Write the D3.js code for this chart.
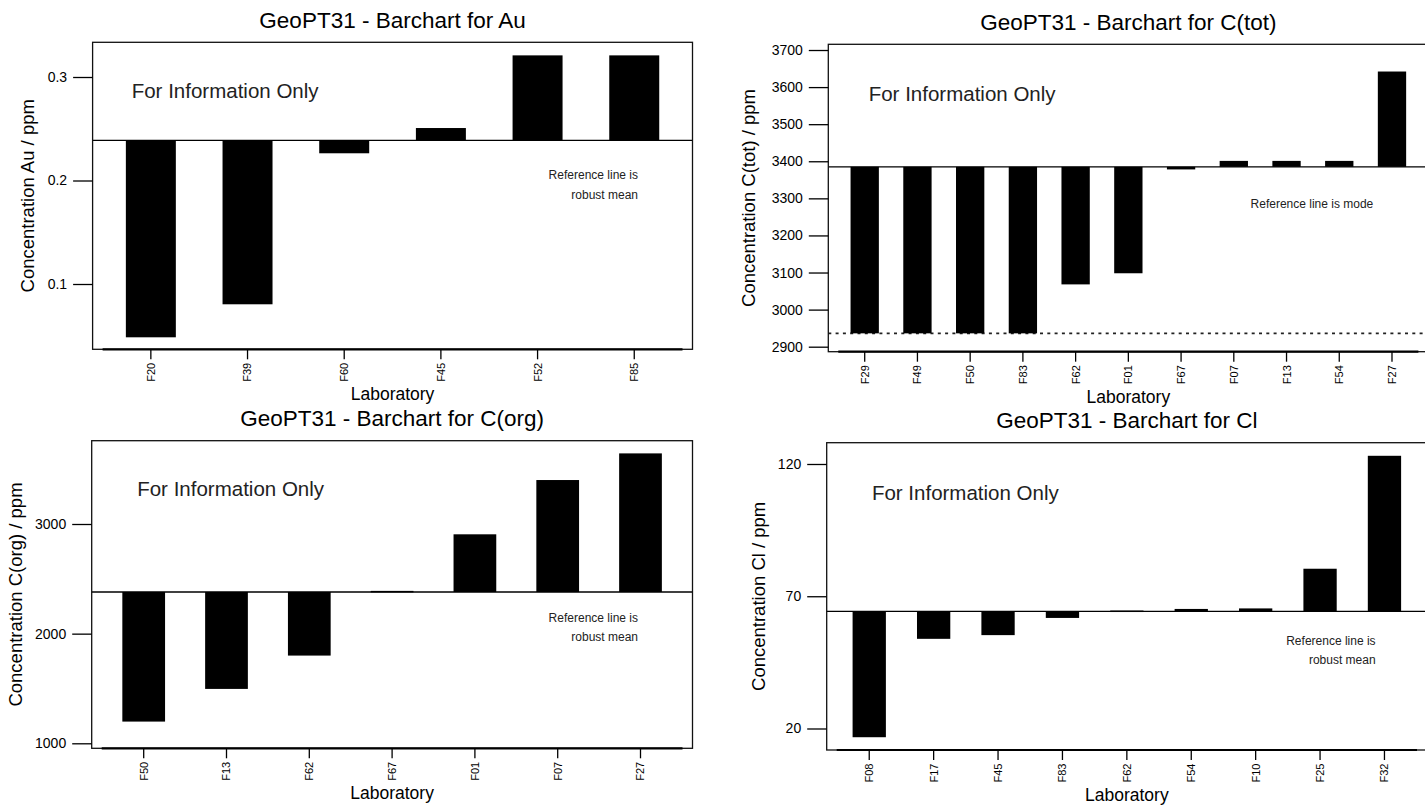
<!DOCTYPE html>
<html>
<head>
<meta charset="utf-8">
<script src="https://cdn.jsdelivr.net/npm/d3@7"></script>
<style>
  html, body { margin: 0; padding: 0; background: #fff; }
  svg { display: block; font-family: "Liberation Sans", Arial, Helvetica, sans-serif; }
</style>
</head>
<body>
<svg id="chart" width="1425" height="805"></svg>
<script>
// ---------------- DATA ----------------
const auLabs = ["F20", "F39", "F60", "F45", "F52", "F85"];
const auVals = [0.0485, 0.0804, 0.2263, 0.2507, 0.3209, 0.3209];
const auRef = 0.2388;
const auTicks = [0.1, 0.2, 0.3];
const auTickLabels = ["0.1", "0.2", "0.3"];

const ctotLabs = ["F29", "F49", "F50", "F83", "F62", "F01", "F67", "F07", "F13", "F54", "F27"];
const ctotVals = [2936, 2936, 2936, 2936, 3068, 3098, 3378, 3401, 3401, 3401, 3642];
const ctotRef = 3385;
const ctotLimit = 2936;
const ctotTicks = [2900, 3000, 3100, 3200, 3300, 3400, 3500, 3600, 3700];
const ctotTickLabels = ["2900", "3000", "3100", "3200", "3300", "3400", "3500", "3600", "3700"];

const corgLabs = ["F50", "F13", "F62", "F67", "F01", "F07", "F27"];
const corgVals = [1198, 1496, 1800, 2390, 2906, 3401, 3644];
const corgRef = 2380;
const corgTicks = [1000, 2000, 3000];
const corgTickLabels = ["1000", "2000", "3000"];

const clLabs = ["F08", "F17", "F45", "F83", "F62", "F54", "F10", "F25", "F32"];
const clVals = [16.7, 53.9, 55.3, 61.8, 64.6, 65.2, 65.4, 80.4, 123.1];
const clRef = 64.3;
const clTicks = [20, 70, 120];
const clTickLabels = ["20", "70", "120"];

const titlePrefix = "GeoPT31 - Barchart for ";
const infoText = "For Information Only";
const xLabel = "Laboratory";

// ---------------- LAYOUT ----------------
const panels = [
  { el: "Au", labs: auLabs, vals: auVals, ref: auRef, ticks: auTicks, tickLabels: auTickLabels,
    note: ["Reference line is", "robust mean"],
    box: {x0: 92.6, x1: 692.5, y0: 42.3, y1: 349.3}, yDomain: [0.03691, 0.33353],
    pi: 0.483, po: 0.344, info: [131.7, 98.3], noteX: 638, noteY: [179.3, 199], ylabX: 34 },
  { el: "C(tot)", labs: ctotLabs, vals: ctotVals, ref: ctotRef, ticks: ctotTicks, tickLabels: ctotTickLabels,
    note: ["Reference line is mode"], limit: ctotLimit,
    box: {x0: 828.3, x1: 1428.4, y0: 44.3, y1: 351.7}, yDomain: [2886.5, 3715.4],
    pi: 0.463, po: 0.422, info: [868.7, 101], noteX: 1373.3, noteY: [207.7], ylabX: 754.5 },
  { el: "C(org)", labs: corgLabs, vals: corgVals, ref: corgRef, ticks: corgTicks, tickLabels: corgTickLabels,
    note: ["Reference line is", "robust mean"],
    box: {x0: 91.7, x1: 692.5, y0: 440.7, y1: 748.3}, yDomain: [954.4, 3759.7],
    pi: 0.484, po: 0.37, info: [137.2, 496], noteX: 638, noteY: [622.3, 641.3], ylabX: 22 },
  { el: "Cl", labs: clLabs, vals: clVals, ref: clRef, ticks: clTicks, tickLabels: clTickLabels,
    note: ["Reference line is", "robust mean"],
    box: {x0: 826.7, x1: 1427, y0: 442.7, y1: 750}, yDomain: [11.87, 128.05],
    pi: 0.483, po: 0.402, info: [871.9, 500], noteX: 1375.6, noteY: [644.7, 664], ylabX: 765 }
];

const svg = d3.select("#chart");

panels.forEach(p => {
  const b = p.box;
  const g = svg.append("g");
  const x = d3.scaleBand().domain(p.labs).range([b.x0, b.x1]).paddingInner(p.pi).paddingOuter(p.po);
  const y = d3.scaleLinear().domain(p.yDomain).range([b.y1, b.y0]);
  const cx = (b.x0 + b.x1) / 2;

  // title
  g.append("text").attr("x", cx).attr("y", b.y0 - 14.5).attr("text-anchor", "middle")
    .attr("font-size", 22.5).attr("fill", "#000").text(titlePrefix + p.el);

  // lower-limit dotted line
  if (p.limit !== undefined) {
    g.append("line").attr("x1", b.x0).attr("x2", b.x1)
      .attr("y1", y(p.limit)).attr("y2", y(p.limit))
      .attr("stroke", "#222").attr("stroke-width", 1.6).attr("stroke-dasharray", "3,4.3");
  }

  // bars
  const data = p.labs.map((l, i) => ({lab: l, v: p.vals[i]}));
  g.selectAll("rect.bar").data(data).enter().append("rect").attr("class", "bar")
    .attr("x", d => x(d.lab)).attr("width", x.bandwidth())
    .attr("y", d => y(Math.max(d.v, p.ref)))
    .attr("height", d => Math.max(1.5, Math.abs(y(d.v) - y(p.ref))))
    .attr("fill", "#000");

  // reference line
  g.append("line").attr("x1", b.x0).attr("x2", b.x1)
    .attr("y1", y(p.ref)).attr("y2", y(p.ref))
    .attr("stroke", "#000").attr("stroke-width", 1.3);

  // frame
  g.append("rect").attr("x", b.x0).attr("y", b.y0).attr("width", b.x1 - b.x0).attr("height", b.y1 - b.y0)
    .attr("fill", "none").attr("stroke", "#111").attr("stroke-width", 1.3);
  g.append("line").attr("x1", b.x0 + 10).attr("x2", b.x1 - 10).attr("y1", b.y1).attr("y2", b.y1)
    .attr("stroke", "#000").attr("stroke-width", 2.2);

  // y axis
  const ya = g.append("g").attr("transform", `translate(${b.x0},0)`)
    .call(d3.axisLeft(y).tickValues(p.ticks).tickFormat((d, i) => p.tickLabels[i]).tickSize(19.5).tickPadding(6));
  ya.select(".domain").remove();
  ya.selectAll("line").attr("stroke", "#000").attr("stroke-width", 1.3);
  ya.selectAll("text").attr("font-size", 14).attr("fill", "#000")
    .attr("font-family", '"Liberation Sans", Arial, sans-serif');

  // x axis
  const xa = g.append("g").attr("transform", `translate(0,${b.y1})`)
    .call(d3.axisBottom(x).tickSize(10));
  xa.select(".domain").remove();
  xa.selectAll("line").attr("stroke", "#000").attr("stroke-width", 1.3);
  xa.selectAll("text")
    .attr("transform", "rotate(-90)").attr("x", -13.5).attr("y", 0).attr("dy", "0.36em")
    .attr("text-anchor", "end").attr("font-size", 11).attr("fill", "#000")
    .attr("font-family", '"Liberation Sans", Arial, sans-serif');

  // axis titles
  g.append("text").attr("x", cx).attr("y", b.y1 + 51).attr("text-anchor", "middle")
    .attr("font-size", 17.5).attr("fill", "#000").text(xLabel);
  g.append("text").attr("transform", `translate(${p.ylabX},${(b.y0 + b.y1) / 2}) rotate(-90)`)
    .attr("text-anchor", "middle").attr("font-size", 18.5).attr("fill", "#000")
    .text("Concentration " + p.el + " / ppm");

  // annotations
  g.append("text").attr("x", p.info[0]).attr("y", p.info[1]).attr("font-size", 20.5)
    .attr("fill", "#222").text(infoText);
  p.note.forEach((t, i) => {
    g.append("text").attr("x", p.noteX).attr("y", p.noteY[i]).attr("text-anchor", "end")
      .attr("font-size", 12).attr("fill", "#222").text(t);
  });
});
</script>
</body>
</html>
